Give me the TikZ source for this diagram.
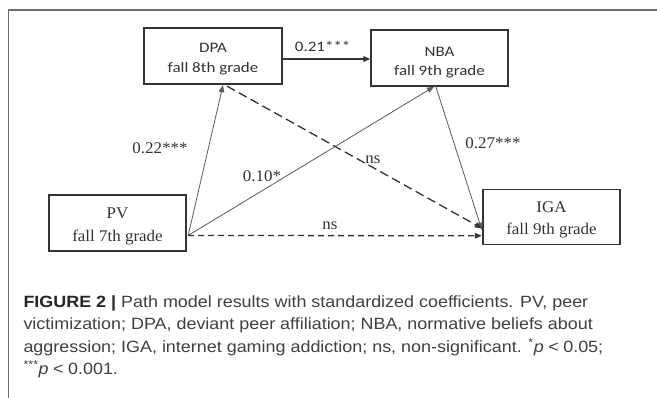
\documentclass[tikz,border=0pt]{standalone}
\usepackage{fontspec}
\usepackage{graphicx}
\setmainfont{Liberation Serif}
\newfontfamily\boxsans{Carlito}
\newfontfamily\capsans{Liberation Sans}
\usetikzlibrary{arrows.meta,calc}
\definecolor{framegray}{HTML}{6E6E6E}
\definecolor{ink}{HTML}{333333}
\definecolor{thinline}{HTML}{5A5A5A}
\definecolor{captext}{HTML}{404040}
% horizontally widened text for the three type families
\newcommand\widesans[1]{\scalebox{1.17}[1]{#1}}
\newcommand\wideserif[1]{\scalebox{1.04}[1]{#1}}
\newcommand\widecap[1]{\scalebox{1.1}[1]{#1}}
% relation sign with roomy spacing
\newcommand\lessthan{\hspace{0.25em}<\hspace{0.25em}}

\begin{document}
\begin{tikzpicture}[x=1pt,y=-1pt,
  varbox/.style={draw=ink, line width=1.3pt, minimum width=137pt, minimum height=56pt, inner sep=0pt},
  sanstext/.style={anchor=base, inner sep=0pt, text=ink, font=\boxsans\fontsize{14.5}{17}\selectfont},
  seriftext/.style={anchor=base, inner sep=0pt, text=ink, font=\fontsize{16.3}{19}\selectfont},
  tip/.style={-{Triangle[length=7pt,width=5.5pt]}},
  thinpath/.style={tip, draw=thinline, line width=0.8pt},
  strongpath/.style={tip, draw=ink, line width=1.3pt},
  nspath/.style={tip, draw=ink, line width=1.3pt, dash pattern=on 9pt off 4.5pt},
  nsflat/.style={nspath, dash pattern=on 6pt off 4pt},
  coef/.style={text=ink, font=\fontsize{16.3}{18}\selectfont, inner sep=0pt},
  capline/.style={anchor=base west, inner sep=0pt, text=captext, font=\capsans\fontsize{16.3}{20}\selectfont}
]
\useasboundingbox (0,0) rectangle (657,398);
\fill[white] (0,0) rectangle (657,398);
% figure frame, open at the right and bottom
\draw[framegray, line width=1.2pt] (8.3,398) -- (8.3,10) -- (657,10);

% variables
\node[varbox, minimum width=138pt] (DPA) at (213,56) {};
\node[varbox] (NBA) at (439.5,58) {};
\node[varbox] (PV) at (117.5,223) {};
\node[varbox, minimum height=55pt] (IGA) at (551.5,216.75) {};

\node[sanstext] (DPA1) at ($(DPA.center)+(0,-3.3)$) {\widesans{DPA}};
\node[sanstext] (DPA2) at ($(DPA.center)+(0,16.3)$) {\widesans{fall 8th grade}};
\node[sanstext] (NBA1) at ($(NBA.center)+(0,-1.5)$) {\widesans{NBA}};
\node[sanstext] (NBA2) at ($(NBA.center)+(0,18)$) {\widesans{fall 9th grade}};
\node[seriftext] (PV1) at ($(PV.center)+(0,-4.7)$) {\wideserif{PV}};
\node[seriftext] (PV2) at ($(PV.center)+(0,18.5)$) {\wideserif{fall 7th grade}};
\node[seriftext] (IGA1) at ($(IGA.center)+(0,-4)$) {\wideserif{IGA}};
\node[seriftext] (IGA2) at ($(IGA.center)+(0,17.3)$) {\wideserif{fall 9th grade}};

% attachment points
\coordinate (pvout) at ($(PV.east)+(1.5,12.5)$);
\coordinate (dpain) at ($(DPA.south)+(10,0.5)$);
\coordinate (dpaout) at ($(DPA.south)+(14,1.5)$);
\coordinate (nbain) at ($(NBA.south)+(-5.5,0)$);
\coordinate (nbaout) at ($(NBA.south)+(-3.5,0.5)$);
\coordinate (igatop) at ($(IGA.west)+(-0.5,11.5)$);
\coordinate (igamid) at ($(IGA.west)+(-0.5,13)$);
\coordinate (igalow) at ($(IGA.west)+(-0.5,19)$);

% paths
\draw[strongpath] ($(DPA.east)+(0,3)$) -- ($(NBA.west)+(0,1)$);
\draw[thinpath] (pvout) -- (dpain);
\draw[thinpath] (pvout) -- (nbain);
\draw[thinpath] (nbaout) -- (igamid);
\draw[nspath] (dpaout) -- (igatop);
\draw[nsflat] (pvout) -- (igalow);

% coefficients
\node[coef, font=\boxsans\fontsize{14.5}{17}\selectfont] (c21) at (322.7,46) {\widesans{0.21***}};
\node[coef] (c22) at (160,148) {\wideserif{0.22***}};
\node[coef] (c10) at (262,176) {\wideserif{0.10*}};
\node[coef] (c27) at (493,143) {\wideserif{0.27***}};
\node[coef] (ns1) at (373,160) {\wideserif{ns}};
\node[coef] (ns2) at (330,226) {\wideserif{ns}};

% caption
\node[capline] (cap1) at (23.3,307.5) {\widecap{{\bfseries\color{black!85}FIGURE 2 |} Path model results with standardized coefficients. PV, peer}};
\node[capline] (cap2) at (23.3,330) {\widecap{victimization; DPA, deviant peer affiliation; NBA, normative beliefs about}};
\node[capline] (cap3) at (23.3,352.5) {\widecap{aggression; IGA, internet gaming addiction; ns, non-significant. \textsuperscript{*}\textit{p}\lessthan 0.05;}};
\node[capline] (cap4) at (23.3,375) {\widecap{\textsuperscript{***}\textit{p}\lessthan 0.001.}};
\end{tikzpicture}
\end{document}
